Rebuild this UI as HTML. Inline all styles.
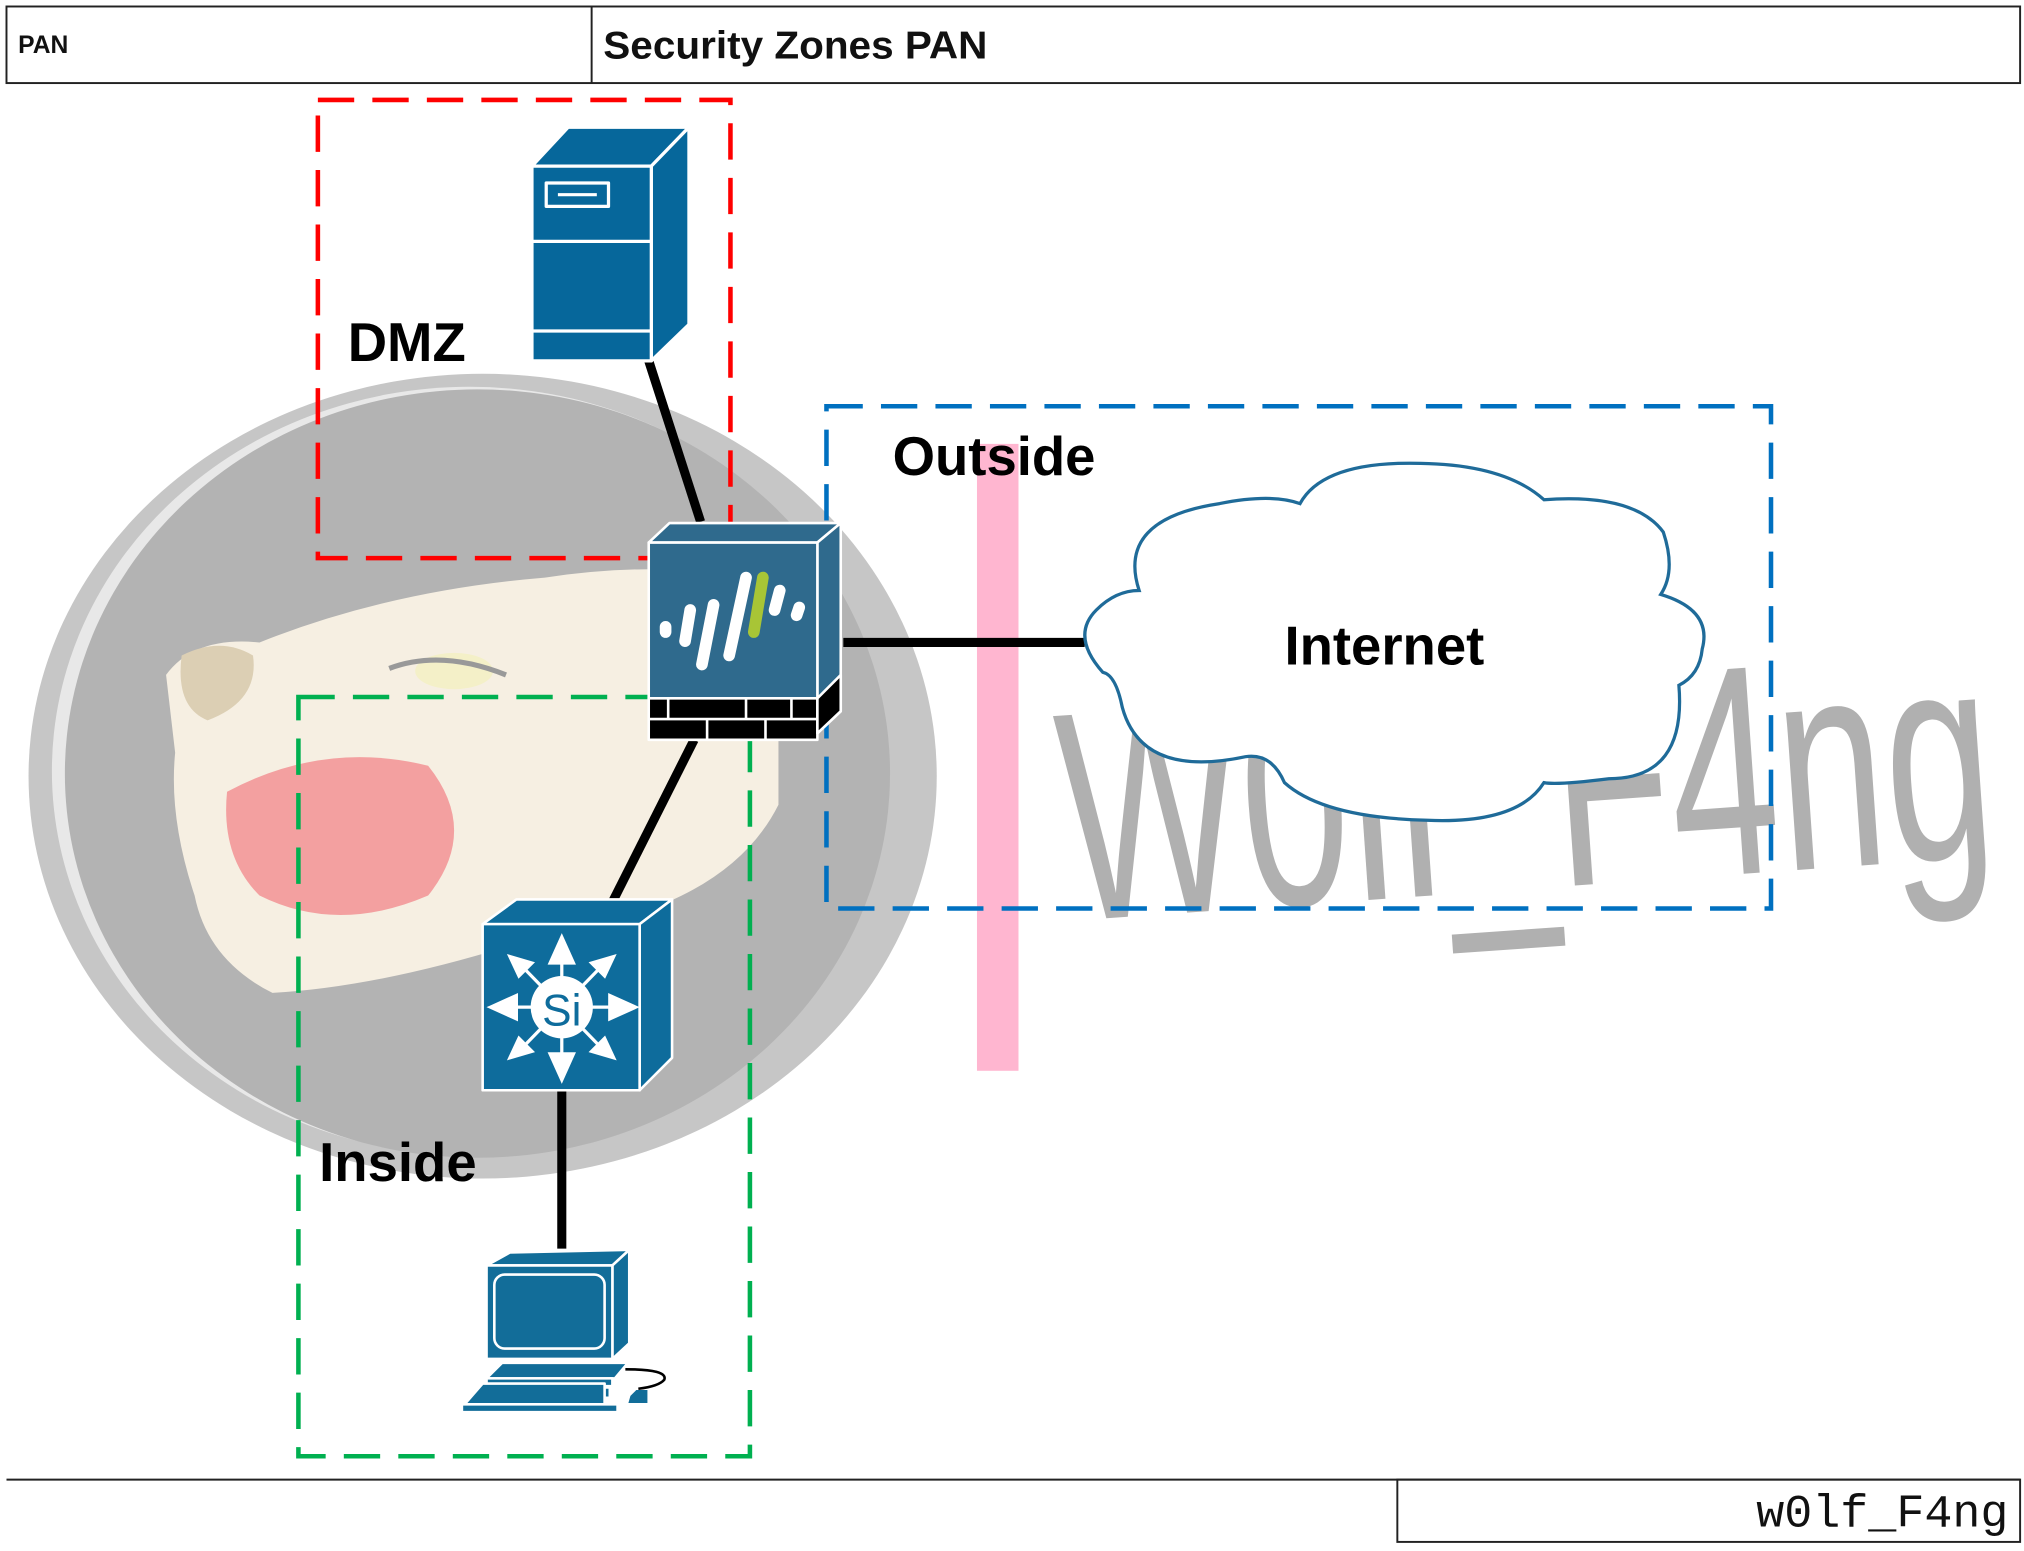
<!DOCTYPE html>
<html><head><meta charset="utf-8"><style>
html,body{margin:0;padding:0;background:#fff;}
svg{display:block;}
text{font-family:"Liberation Sans",sans-serif;}
text.mono{font-family:"Liberation Mono",monospace;}
</style></head><body>
<svg width="2024" height="1551" viewBox="0 0 1560 1195" preserveAspectRatio="none" xmlns="http://www.w3.org/2000/svg">
<rect width="1560" height="1195" fill="#fff"/>
<!-- header -->
<rect x="5" y="5" width="1552" height="59" fill="none" stroke="#222" stroke-width="1.5"/>
<line x1="456" y1="5" x2="456" y2="64" stroke="#222" stroke-width="1.5"/>
<text x="14" y="41" font-size="19" font-weight="bold" fill="#111">PAN</text>
<text x="465" y="45" font-size="30" font-weight="bold" fill="#111" textLength="296" lengthAdjust="spacingAndGlyphs">Security Zones PAN</text>
<!-- footer -->
<line x1="5" y1="1140" x2="1557" y2="1140" stroke="#222" stroke-width="1.5"/>
<rect x="1077" y="1140" width="480" height="48" fill="none" stroke="#222" stroke-width="1.5"/>
<text class="mono" x="1548" y="1176" font-size="36" text-anchor="end" fill="#111">w0lf_F4ng</text>
<!-- wolf background -->
<ellipse cx="372" cy="598" rx="350" ry="310" fill="#c6c6c6"/>
<ellipse cx="362" cy="594" rx="322" ry="296" fill="#fff" opacity="0.6"/>
<ellipse cx="368" cy="596" rx="318" ry="296" fill="#b3b3b3"/>
<path d="M128,520 Q150,490 200,495 Q300,455 420,445 Q520,430 600,450 L600,620 Q560,700 420,720 Q300,760 210,765 Q160,740 150,690 Q130,630 135,580 Z" fill="#f6efe2"/>
<path d="M140,505 Q170,490 195,505 Q200,540 160,555 Q135,545 140,505Z" fill="#dccfb4"/>
<path d="M175,610 Q250,570 330,590 Q370,640 330,690 Q260,720 200,690 Q170,660 175,610Z" fill="#f3a0a0"/>
<ellipse cx="350" cy="517" rx="30" ry="14" fill="#f4f0c8"/>
<path d="M300,515 Q340,500 390,520" stroke="#999" stroke-width="4" fill="none"/>
<!-- watermark -->
<text x="815" y="690" font-size="230" fill="#b0b0b0" transform="rotate(-4 1100 600)" textLength="720" lengthAdjust="spacingAndGlyphs">W0lf_F4ng</text>
<!-- pink bar -->
<rect x="753" y="342" width="32" height="483" fill="#ffb6d0"/>
<!-- zones -->
<g fill="none" stroke-width="3.5" stroke-dasharray="28 14">
<rect x="245" y="77" width="318" height="353" stroke="#f00"/>
<rect x="230" y="537" width="348" height="585" stroke="#00b050"/>
<rect x="637" y="313" width="728" height="387" stroke="#0070c0"/>
</g>
<!-- connectors -->
<g stroke="#000" stroke-width="7">
<line x1="500" y1="278" x2="540" y2="402"/>
<line x1="650" y1="495" x2="836" y2="495"/>
<line x1="535" y1="570" x2="472" y2="695"/>
<line x1="433" y1="840" x2="433" y2="962"/>
</g>
<!-- server -->
<g stroke="#fff" stroke-width="2.5" stroke-linejoin="round">
<polygon points="410,128 438,98 531,98 502,128" fill="#06679b"/>
<polygon points="502,128 531,98 531,250 502,278" fill="#06679b"/>
<rect x="410" y="128" width="92" height="150" fill="#06679b"/>
<line x1="410" y1="186" x2="502" y2="186"/>
<line x1="410" y1="255" x2="502" y2="255"/>
<rect x="421" y="141" width="48" height="18" fill="none"/>
<line x1="430" y1="150" x2="460" y2="150"/>
</g>
<!-- firewall -->
<g stroke="#fff" stroke-width="2" stroke-linejoin="round">
<polygon points="500,418 516,403 648,403 630,418" fill="#2f6a8d"/>
<polygon points="630,418 648,403 648,548 630,565" fill="#2f6a8d"/>
<rect x="500" y="418" width="130" height="120" fill="#2f6a8d"/>
<rect x="500" y="538" width="130" height="32" fill="#000"/>
<line x1="500" y1="554" x2="630" y2="554"/>
<line x1="515" y1="538" x2="515" y2="554"/><line x1="575" y1="538" x2="575" y2="554"/><line x1="610" y1="538" x2="610" y2="554"/>
<line x1="545" y1="554" x2="545" y2="570"/><line x1="590" y1="554" x2="590" y2="570"/>
<polygon points="630,538 648,520 648,548 630,565" fill="#000"/>
</g>
<g stroke-linecap="round" stroke-width="9">
<line x1="513" y1="483" x2="513" y2="487" stroke="#fff"/>
<line x1="528" y1="494" x2="532" y2="470" stroke="#fff"/>
<line x1="541" y1="512" x2="550" y2="466" stroke="#fff"/>
<line x1="562" y1="505" x2="575" y2="445" stroke="#fff"/>
<line x1="581" y1="487" x2="588" y2="445" stroke="#a8c536"/>
<line x1="597" y1="470" x2="601" y2="455" stroke="#fff"/>
<line x1="614" y1="474" x2="616" y2="468" stroke="#fff"/>
</g>
<!-- switch -->
<g stroke="#fff" stroke-width="2" stroke-linejoin="round">
<polygon points="372,712 398,693 518,693 493,712" fill="#0e6c9c"/>
<polygon points="493,712 518,693 518,815 493,840" fill="#0e6c9c"/>
<rect x="372" y="712" width="121" height="128" fill="#0e6c9c"/>
</g>
<g fill="#fff" stroke="#fff" stroke-width="2.5">
<line x1="380" y1="776" x2="486" y2="776"/><line x1="433" y1="724" x2="433" y2="830"/>
<line x1="398" y1="740" x2="468" y2="812"/><line x1="468" y1="740" x2="398" y2="812"/>
<polygon points="433,722 424,742 442,742"/><polygon points="433,832 424,812 442,812"/>
<polygon points="378,776 398,767 398,785"/><polygon points="490,776 470,767 470,785"/>
<polygon points="393,737 410,742 400,752"/><polygon points="473,737 456,742 466,752"/>
<polygon points="393,815 410,810 400,800"/><polygon points="473,815 456,810 466,800"/>
</g>
<circle cx="433" cy="776" r="24" fill="#fff"/>
<text x="433" y="790" font-size="34" text-anchor="middle" fill="#0e6c9c">Si</text>
<!-- PC -->
<g stroke="#fff" stroke-width="2" stroke-linejoin="round" fill="#126d99">
<polygon points="375,975 393,965 485,963 472,975"/>
<polygon points="472,975 485,963 485,1035 472,1047"/>
<rect x="375" y="975" width="97" height="72"/>
<rect x="381" y="982" width="85" height="57" rx="8" fill="none"/>
<polygon points="380,1057 387,1050 484,1050 474,1062 375,1062"/>
<rect x="375" y="1062" width="97" height="6"/>
<rect x="390" y="1069" width="80" height="8"/>
<polygon points="358,1082 372,1066 466,1066 466,1082"/>
<rect x="356" y="1082" width="120" height="6"/>
<polygon points="485,1075 490,1070 500,1070 500,1082 483,1082"/>
</g>
<path d="M482,1055 Q515,1055 512,1063 Q508,1068 492,1070" stroke="#000" stroke-width="2" fill="none"/>
<!-- cloud -->
<path d="M878,455 Q860,400 940,388 Q980,380 1002,388 Q1020,355 1095,357 Q1160,358 1190,385 Q1260,380 1282,410 Q1292,440 1280,458 Q1320,470 1312,500 Q1310,520 1294,528 Q1300,600 1240,600 Q1200,605 1190,603 Q1170,635 1100,632 Q1020,630 990,603 Q980,580 960,583 Q880,600 865,545 Q860,520 850,518 Q825,490 845,470 Q860,455 878,455Z" fill="#fff" stroke="#1f6b99" stroke-width="2.5"/>
<!-- labels -->
<g font-weight="bold" fill="#000">
<text x="268" y="278" font-size="42">DMZ</text>
<text x="688" y="366" font-size="42">Outside</text>
<text x="990" y="512" font-size="42">Internet</text>
<text x="246" y="910" font-size="42">Inside</text>
</g>
</svg>
</body></html>
